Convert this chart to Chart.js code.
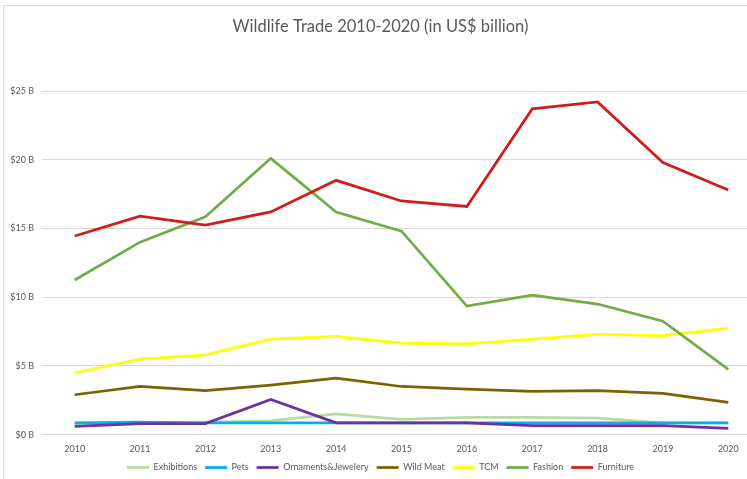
<!DOCTYPE html>
<html>
<head>
<meta charset="utf-8">
<script src="https://cdn.jsdelivr.net/npm/chart.js@4"></script>
<style>
  html, body { margin: 0; padding: 0; background: #fff; overflow: hidden; }
  #wrap { position: relative; width: 747px; height: 479px; overflow: hidden; }
  #frame { position: absolute; left: 3px; top: 5px; width: 900px; height: 600px; border: 1px solid #d9d9d9; box-sizing: border-box; }
  #box { position: absolute; left: 0; top: 0; width: 762px; height: 482px; }
</style>
</head>
<body>
<div id="wrap">
  <div id="frame"></div>
  <div id="box"><canvas id="c" width="762" height="482"></canvas></div>
</div>
<script>
const years = ['2010','2011','2012','2013','2014','2015','2016','2017','2018','2019','2020'];
const exhibitions = [0.8, 0.85, 0.9, 1.0, 1.5, 1.1, 1.25, 1.25, 1.2, 0.85, 0.85];
const pets        = [0.85, 0.9, 0.85, 0.85, 0.85, 0.85, 0.85, 0.85, 0.85, 0.85, 0.85];
const ornaments   = [0.6, 0.8, 0.8, 2.55, 0.85, 0.85, 0.85, 0.65, 0.65, 0.65, 0.45];
const wildMeat    = [2.9, 3.5, 3.2, 3.6, 4.1, 3.5, 3.3, 3.15, 3.2, 3.0, 2.35];
const tcm         = [4.5, 5.5, 5.8, 6.95, 7.15, 6.65, 6.6, 6.95, 7.3, 7.2, 7.75];
const fashion     = [11.25, 14.0, 15.85, 20.1, 16.2, 14.8, 9.35, 10.15, 9.5, 8.25, 4.75];
const furniture   = [14.45, 15.9, 15.25, 16.2, 18.5, 17.0, 16.6, 23.7, 24.2, 19.8, 17.8];
const seriesNames = ['Exhibitions','Pets','Ornaments&Jewelery','Wild Meat','TCM','Fashion','Furniture'];
const seriesData = [exhibitions, pets, ornaments, wildMeat, tcm, fashion, furniture];
const seriesColors = ['#b8dba5','#00b0f0','#7030a0','#7f6000','#ffff00','#70ad47','#d01c1c'];

const FONT = 'Lato, "Open Sans", sans-serif';
const datasets = seriesNames.map((n, i) => ({
  label: n,
  data: seriesData[i],
  borderColor: seriesColors[i],
  backgroundColor: seriesColors[i],
  borderWidth: 2.75,
  pointRadius: 0,
  tension: 0,
  fill: false,
  order: seriesNames.length - i
}));

new Chart(document.getElementById('c'), {
  type: 'line',
  data: { labels: years, datasets },
  options: {
    responsive: false,
    animation: false,
    layout: { padding: { left: 0, right: 1, top: 0, bottom: 0 } },
    plugins: {
      tooltip: { enabled: false },
      title: {
        display: true,
        text: 'Wildlife Trade 2010-2020 (in US$ billion)',
        color: '#595959',
        font: { family: FONT, size: 16.5, weight: 'normal' },
        padding: { top: 17, bottom: 54.2 }
      },
      legend: {
        position: 'bottom',
        labels: {
          usePointStyle: true,
          pointStyle: 'line',
          pointStyleWidth: 22,
          boxHeight: 3,
          padding: 8,
          color: '#595959',
          font: { family: FONT, size: 9 },
          sort: (a, b) => a.datasetIndex - b.datasetIndex
        }
      }
    },
    scales: {
      x: {
        offset: true,
        afterFit: (s) => { s.height = 20.4; },
        grid: { display: false, drawTicks: false },
        border: { display: false },
        ticks: { color: '#595959', font: { family: FONT, size: 9 }, padding: 8.6, maxRotation: 0 }
      },
      y: {
        min: 0, max: 25,
        afterFit: (s) => { s.width = 42; },
        grid: { color: '#d9d9d9', lineWidth: 1, drawTicks: false },
        border: { display: false },
        ticks: {
          stepSize: 5,
          padding: 8,
          color: '#595959',
          font: { family: FONT, size: 9 },
          callback: (v) => '$' + v + ' B'
        }
      }
    }
  }
});
</script>
</body>
</html>
